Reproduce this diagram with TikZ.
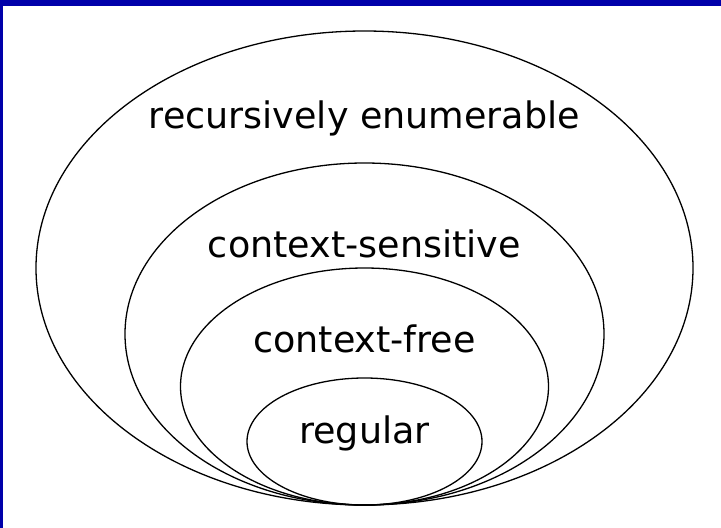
\documentclass[tikz,border=0pt]{standalone}
\usepackage{fontspec}
\setmainfont{DejaVu Sans}
\usepackage{tikz}

\begin{document}
\begin{tikzpicture}
		[x=1pt, y=-1pt,
		set line/.style={line width=1.3pt, black},
		set label/.style={anchor=base, inner sep=0pt, font=\fontsize{36.5}{44}\selectfont},
		frame bar/.style={fill=frameblue, draw=none}]
		
		\definecolor{frameblue}{RGB}{0,0,170}
		\def \Cx {364.5};
		\def \Bottom {505};
		
		\useasboundingbox (0,0) rectangle (721,528);
		\fill[white] (0,0) rectangle (721,528);
		\fill[frame bar] (0,0) rectangle (721,6);
		\fill[frame bar] (0,0) rectangle (3,528);
		
		% nested sets, all touching at the bottom
		\draw[set line] (\Cx,268) ellipse [x radius=328.5, y radius=237];
		\draw[set line] (\Cx,334) ellipse [x radius=239.5, y radius=171];
		\draw[set line] (\Cx,386.5) ellipse [x radius=184, y radius=118.5];
		\draw[set line] (\Cx,441.5) ellipse [x radius=117.5, y radius=63.5];
		
		\node[set label] (re) at (\Cx,128) {recursively enumerable};
		\node[set label] (cs) at (\Cx,257) {context-sensitive};
		\node[set label] (cf) at (\Cx,352) {context-free};
		\node[set label] (reg) at (\Cx,443) {regular};

	\end{tikzpicture}
\end{document}
